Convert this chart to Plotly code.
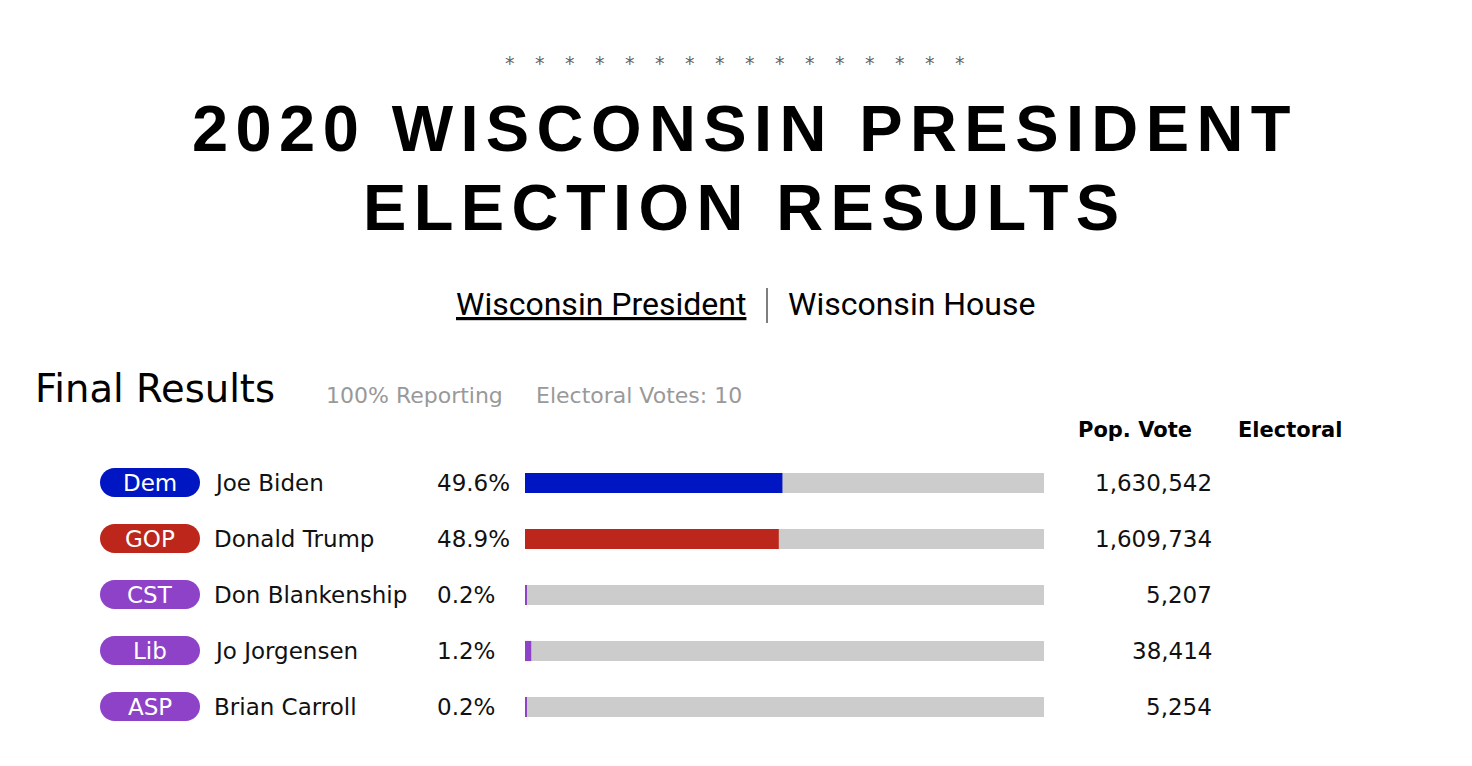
import plotly.graph_objects as go

# page body has an 8px margin; figure fills the rest of the window
OFF = 8
W, H = 1472 - 2 * OFF, 766 - 2 * OFF

# ---- data ----
parties = ["Dem", "GOP", "CST", "Lib", "ASP"]
candidates = ["Joe Biden", "Donald Trump", "Don Blankenship", "Jo Jorgensen", "Brian Carroll"]
pct = [49.6, 48.9, 0.2, 1.2, 0.2]
pop_votes = [1630542, 1609734, 5207, 38414, 5254]
party_colors = ["#0016c3", "#bd271b", "#8e42c8", "#8e42c8", "#8e42c8"]
track = [100, 100, 100, 100, 100]
title_lines = ["2020 WISCONSIN PRESIDENT", "ELECTION RESULTS"]
nav_links = ["Wisconsin President", "Wisconsin House"]
heading = "Final Results"
sub_info = ["100% Reporting", "Electoral Votes: 10"]
col_headers = ["Pop. Vote", "Electoral"]
n_stars = 16


def px(x):
    return (x - OFF) / W


def py(y):
    return 1 - (y - OFF) / H


BODY = "DejaVu Sans"
ROW0, ROWH = 483, 56
n = len(candidates)
y_top = ROW0 - ROWH / 2
y_bot = y_top + ROWH * n

fig = go.Figure()
fig.add_trace(go.Bar(
    y=candidates, x=track, orientation="h", width=0.36,
    marker=dict(color="#cccccc", line_width=0),
    hoverinfo="skip", showlegend=False,
))
fig.add_trace(go.Bar(
    y=candidates, x=pct, orientation="h", width=0.36,
    marker=dict(color=party_colors, line_width=0),
    showlegend=False,
))

annotations = []
shapes = []

# stars
for i in range(n_stars):
    annotations.append(dict(
        x=px(510 + 30 * i), y=py(63), xref="paper", yref="paper",
        text="*", showarrow=False, xanchor="center", yanchor="middle",
        font=dict(family="DejaVu Sans", size=19, color="#666666"),
    ))

# title
for line, yc in zip(title_lines, [128.5, 207.5]):
    annotations.append(dict(
        x=px(745), y=py(yc), xref="paper", yref="paper",
        text='<span style="letter-spacing:7.4px">' + line + "</span>",
        showarrow=False, xanchor="center", yanchor="middle",
        font=dict(family="Liberation Sans", size=65, color="#000000", weight="bold"),
    ))

# nav links
annotations.append(dict(
    x=px(748), y=py(304), xref="paper", yref="paper",
    text="<u>" + nav_links[0] + "</u>", showarrow=False,
    xanchor="right", yanchor="middle",
    font=dict(family="Roboto", size=32, color="#000000"),
))
annotations.append(dict(
    x=px(786), y=py(304), xref="paper", yref="paper",
    text=nav_links[1], showarrow=False,
    xanchor="left", yanchor="middle",
    font=dict(family="Roboto", size=32, color="#000000"),
))
shapes.append(dict(
    type="line", xref="paper", yref="paper",
    x0=px(767), x1=px(767), y0=py(288), y1=py(323),
    line=dict(color="#555555", width=1.5),
))

# heading
annotations.append(dict(
    x=px(33), y=py(388), xref="paper", yref="paper", text=heading,
    showarrow=False, xanchor="left", yanchor="middle",
    font=dict(family=BODY, size=38.5, color="#000000"),
))
for txt, x0 in zip(sub_info, [324, 534]):
    annotations.append(dict(
        x=px(x0), y=py(395), xref="paper", yref="paper", text=txt,
        showarrow=False, xanchor="left", yanchor="middle",
        font=dict(family=BODY, size=22, color="#999999"),
    ))

# column headers
for txt, x0 in zip(col_headers, [1076, 1236]):
    annotations.append(dict(
        x=px(x0), y=py(430), xref="paper", yref="paper", text=txt,
        showarrow=False, xanchor="left", yanchor="middle",
        font=dict(family=BODY, size=21, color="#000000", weight="bold"),
    ))

# rows
k = 0.5523
for i, (party, cand, p, v, col) in enumerate(zip(parties, candidates, pct, pop_votes, party_colors)):
    cy = ROW0 + i * ROWH - 0.5
    x0, x1 = px(100), px(200)
    rx, ry = 14.5 / W, 14.5 / H
    yc = py(cy)
    top, bot = yc + ry, yc - ry
    path = (
        f"M {x0 + rx},{top} L {x1 - rx},{top} "
        f"C {x1 - rx + k * rx},{top} {x1},{yc + k * ry} {x1},{yc} "
        f"C {x1},{yc - k * ry} {x1 - rx + k * rx},{bot} {x1 - rx},{bot} "
        f"L {x0 + rx},{bot} "
        f"C {x0 + rx - k * rx},{bot} {x0},{yc - k * ry} {x0},{yc} "
        f"C {x0},{yc + k * ry} {x0 + rx - k * rx},{top} {x0 + rx},{top} Z"
    )
    shapes.append(dict(type="path", xref="paper", yref="paper", path=path,
                       fillcolor=col, line=dict(width=0)))
    annotations.append(dict(
        x=px(150), y=cand, xref="paper", yref="y", text=party,
        showarrow=False, xanchor="center", yanchor="middle",
        font=dict(family=BODY, size=23, color="#ffffff"),
    ))
    annotations.append(dict(
        x=px(212), y=cand, xref="paper", yref="y", text=cand,
        showarrow=False, xanchor="left", yanchor="middle",
        font=dict(family=BODY, size=23, color="#111111"),
    ))
    annotations.append(dict(
        x=px(435), y=cand, xref="paper", yref="y", text=f"{p:.1f}%",
        showarrow=False, xanchor="left", yanchor="middle",
        font=dict(family=BODY, size=23, color="#111111"),
    ))
    annotations.append(dict(
        x=px(1214), y=cand, xref="paper", yref="y", text=f"{v:,}",
        showarrow=False, xanchor="right", yanchor="middle",
        font=dict(family=BODY, size=23, color="#111111"),
    ))

fig.update_layout(
    barmode="overlay", width=W, height=H,
    margin=dict(l=0, r=0, t=0, b=0),
    paper_bgcolor="white", plot_bgcolor="white",
    xaxis=dict(domain=[px(525), px(1044)], range=[0, 100], visible=False, fixedrange=True),
    yaxis=dict(domain=[py(y_bot), py(y_top)], type="category",
               categoryorder="array", categoryarray=candidates,
               range=[n - 0.5, -0.5], visible=False, fixedrange=True),
    annotations=annotations, shapes=shapes,
)

fig.write_html("out.html", config={"displayModeBar": False})
